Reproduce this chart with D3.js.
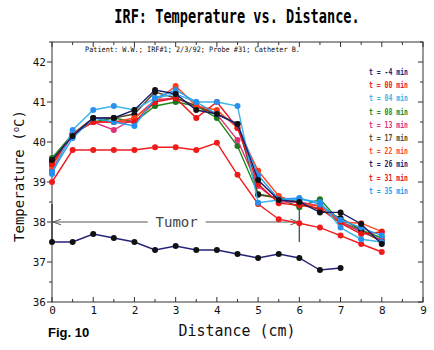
<!DOCTYPE html>
<html lang="en">
<head>
<meta charset="UTF-8">
<title>IRF: Temperature vs. Distance</title>
<script src="https://d3js.org/d3.v7.min.js"></script>
<style>
  body { margin: 0; background: #fff; }
  svg { background: #fff; }
  .tick text { font-family: "DejaVu Sans Mono", monospace; font-size: 11px; fill: #111; }
  .legend text { font-family: "DejaVu Sans Mono", monospace; font-weight: bold; }
</style>
</head>
<body>
<script>
// distance along the probe (cm)
const distance = [0, 0.5, 1, 1.5, 2, 2.5, 3, 3.5, 4, 4.5, 5, 5.5, 6, 6.5, 7, 7.5, 8];

// temperatures (°C), one array per time
const tM4 = [37.5, 37.5, 37.7, 37.6, 37.5, 37.3, 37.4, 37.3, 37.3, 37.2, 37.1, 37.2, 37.1, 36.8, 36.85];
const t00 = [39.0, 39.8, 39.8, 39.8, 39.8, 39.87, 39.87, 39.8, 39.98, 39.18, 38.45, 38.07, 37.97, 37.86, 37.66, 37.45, 37.25];
const t04 = [39.2, 40.3, 40.8, 40.9, 40.8, 41.1, 41.2, 41.0, 41.0, 40.9, 38.48, 38.55, 38.57, 38.5, 37.86, 37.57, 37.5];
const t08 = [39.6, 40.2, 40.5, 40.6, 40.5, 40.9, 41.0, 40.9, 40.6, 39.9, 38.7, 38.6, 38.37, 38.57, 38.0, 37.8, 37.6];
const t13 = [39.3, 40.2, 40.5, 40.3, 40.6, 41.05, 41.1, 40.9, 40.7, 40.05, 38.9, 38.5, 38.5, 38.4, 38.0, 37.75, 37.55];
const t17 = [39.5, 40.2, 40.6, 40.6, 40.7, 41.25, 41.1, 40.9, 40.7, 40.45, 38.68, 38.6, 38.5, 38.3, 38.1, 37.8, 37.5];
const t22 = [39.4, 40.2, 40.5, 40.5, 40.6, 41.0, 41.4, 40.9, 40.8, 40.35, 39.28, 38.65, 38.45, 38.4, 38.0, 37.97, 37.76];
const t26 = [39.55, 40.15, 40.6, 40.6, 40.8, 41.3, 41.2, 40.8, 40.7, 40.45, 39.05, 38.55, 38.5, 38.24, 38.24, 37.95, 37.45];
const t31 = [39.45, 40.2, 40.5, 40.5, 40.5, 41.0, 41.1, 40.6, 41.0, 40.35, 38.95, 38.47, 38.42, 38.34, 37.97, 37.7, 37.75];
const t35 = [39.25, 40.1, 40.6, 40.5, 40.4, 41.1, 41.3, 41.0, 40.7, 40.45, 39.17, 38.57, 38.6, 38.44, 38.05, 37.86, 37.66];

const seriesLabels = ["t = -4 min", "t = 00 min", "t = 04 min", "t = 08 min", "t = 13 min",
                      "t = 17 min", "t = 22 min", "t = 26 min", "t = 31 min", "t = 35 min"];
const seriesValues = [tM4, t00, t04, t08, t13, t17, t22, t26, t31, t35];
const lineColors = ["#23237a", "#f01c1c", "#3fb4ea", "#1b8c1b", "#e0307a",
                    "#5a4a22", "#ff4a1e", "#1c1c6a", "#ec1414", "#2a9ef0"];
const dotColors = ["#111111", "#f01c1c", "#2a90f0", "#1b7a1b", "#e0307a",
                   "#111111", "#ff3a1a", "#111111", "#ec1414", "#2090f0"];

const yTicks = [36, 37, 38, 39, 40, 41, 42];
const xTicks = [0, 1, 2, 3, 4, 5, 6, 7, 8, 9];
const tumorRange = [0, 6];
const tumorLevel = 38;

const width = 434, height = 350;
const margin = { top: 42, right: 11, bottom: 48, left: 52 };

const svg = d3.select("body").append("svg")
  .attr("width", width)
  .attr("height", height);

const x = d3.scaleLinear().domain([0, 9]).range([margin.left, width - margin.right]);
const y = d3.scaleLinear().domain([36, 42.5]).range([height - margin.bottom, margin.top]);

// title (tall, narrow lettering)
svg.append("g")
  .attr("transform", "translate(237,23) scale(1,1.45)")
  .append("text")
  .attr("text-anchor", "middle")
  .style("font-family", "'DejaVu Sans Mono', monospace")
  .style("font-weight", "bold").style("font-size", "13.6px")
  .text("IRF: Temperature vs. Distance.");

// frame
svg.append("rect")
  .attr("x", x(0)).attr("y", y(42.5))
  .attr("width", x(9) - x(0)).attr("height", y(36) - y(42.5))
  .attr("fill", "none").attr("stroke", "#333").attr("stroke-width", 1);

// axes
const halfX = d3.range(0, 9.01, 0.5);
const halfY = d3.range(36, 42.51, 0.5);

svg.append("g")
  .attr("transform", `translate(0,${y(36)})`)
  .call(d3.axisBottom(x).tickValues(xTicks).tickSize(0).tickPadding(4).tickFormat(d3.format("d")))
  .call(g => g.select(".domain").remove());

svg.append("g")
  .attr("transform", `translate(${x(0)},0)`)
  .call(d3.axisLeft(y).tickValues(yTicks).tickSize(0).tickPadding(6).tickFormat(d3.format("d")))
  .call(g => g.select(".domain").remove());

// tick marks: inward on bottom, top, right; outward on left
const tickG = svg.append("g").attr("stroke", "#333").attr("stroke-width", 1);
halfX.forEach(v => {
  const len = Number.isInteger(v) ? 5 : 3;
  tickG.append("line").attr("x1", x(v)).attr("x2", x(v)).attr("y1", y(36)).attr("y2", y(36) - len);
  tickG.append("line").attr("x1", x(v)).attr("x2", x(v)).attr("y1", y(42.5)).attr("y2", y(42.5) + len);
});
halfY.forEach(v => {
  const len = Number.isInteger(v) ? 5 : 3;
  tickG.append("line").attr("x1", x(0)).attr("x2", x(0) - len).attr("y1", y(v)).attr("y2", y(v));
  tickG.append("line").attr("x1", x(9)).attr("x2", x(9) - len).attr("y1", y(v)).attr("y2", y(v));
});

// axis titles
svg.append("text")
  .attr("transform", `translate(24,${(y(36) + y(42.5)) / 2 + 4}) rotate(-90)`)
  .attr("text-anchor", "middle")
  .style("font-family", "'DejaVu Sans Mono', monospace")
  .style("font-size", "14px").attr("fill", "#111")
  .call(t => {
    t.append("tspan").text("Temperature (");
    t.append("tspan").attr("dy", -5).style("font-size", "9px").text("o");
    t.append("tspan").attr("dy", 5).text("C)");
  });

svg.append("text")
  .attr("x", 237).attr("y", 336)
  .attr("text-anchor", "middle")
  .attr("textLength", 117).attr("lengthAdjust", "spacingAndGlyphs")
  .style("font-family", "'DejaVu Sans Mono', monospace")
  .style("font-size", "15px").attr("fill", "#111")
  .text("Distance (cm)");

svg.append("text")
  .attr("x", 48).attr("y", 337)
  .style("font-family", "'Liberation Sans', Arial, sans-serif")
  .style("font-weight", "bold").style("font-size", "13px")
  .text("Fig. 10");

// patient note
svg.append("text")
  .attr("x", 85).attr("y", 52)
  .attr("textLength", 215).attr("lengthAdjust", "spacingAndGlyphs")
  .style("font-family", "'DejaVu Sans Mono', monospace")
  .style("font-size", "7.5px").attr("fill", "#111")
  .text("Patient: W.W.; IRF#1; 2/3/92; Probe #31; Catheter B.");

// tumor annotation
const defs = svg.append("defs");
defs.append("marker")
  .attr("id", "arrow").attr("viewBox", "0 0 10 10")
  .attr("refX", 10).attr("refY", 5)
  .attr("markerWidth", 8).attr("markerHeight", 8)
  .attr("markerUnits", "userSpaceOnUse")
  .attr("orient", "auto")
  .append("path").attr("d", "M0,1.5 L10,5 L0,8.5")
  .attr("fill", "none").attr("stroke", "#555").attr("stroke-width", 1.2);

const annot = svg.append("g").attr("stroke", "#555").attr("stroke-width", 1.2);
annot.append("line")
  .attr("x1", x(3) - 28).attr("x2", x(tumorRange[0]) + 1)
  .attr("y1", y(tumorLevel)).attr("y2", y(tumorLevel))
  .attr("marker-end", "url(#arrow)");
annot.append("line")
  .attr("x1", x(3) + 30).attr("x2", x(tumorRange[1]) - 1)
  .attr("y1", y(tumorLevel)).attr("y2", y(tumorLevel))
  .attr("marker-end", "url(#arrow)");
tumorRange.forEach(v => {
  annot.append("line")
    .attr("x1", x(v)).attr("x2", x(v))
    .attr("y1", y(38.45)).attr("y2", y(37.5))
    .attr("stroke-width", v === 0 ? 2 : 1.4);
});
svg.append("text")
  .attr("x", x(3) + 1).attr("y", y(tumorLevel) + 5)
  .attr("text-anchor", "middle")
  .style("font-family", "'DejaVu Sans Mono', monospace")
  .style("font-size", "14px").attr("fill", "#444")
  .text("Tumor");

// series lines and dots
const line = d3.line().x((d, i) => x(distance[i])).y(d => y(d));

const order = [0, 1, 3, 4, 5, 6, 8, 2, 9, 7];
order.forEach(k => {
  const vals = seriesValues[k];
  const g = svg.append("g");
  g.append("path")
    .datum(vals)
    .attr("d", line)
    .attr("fill", "none")
    .attr("stroke", lineColors[k])
    .attr("stroke-width", 1.4);
  g.selectAll("circle")
    .data(vals)
    .join("circle")
    .attr("cx", (d, i) => x(distance[i]))
    .attr("cy", d => y(d))
    .attr("r", 3)
    .attr("fill", dotColors[k]);
});

// legend
const legend = svg.append("g").attr("class", "legend");
seriesLabels.forEach((lab, i) => {
  legend.append("text")
    .attr("x", 369).attr("y", 75 + i * 13.2)
    .attr("textLength", 39).attr("lengthAdjust", "spacingAndGlyphs")
    .style("font-size", "8px")
    .attr("fill", lineColors[i])
    .text(lab);
});
</script>
</body>
</html>
